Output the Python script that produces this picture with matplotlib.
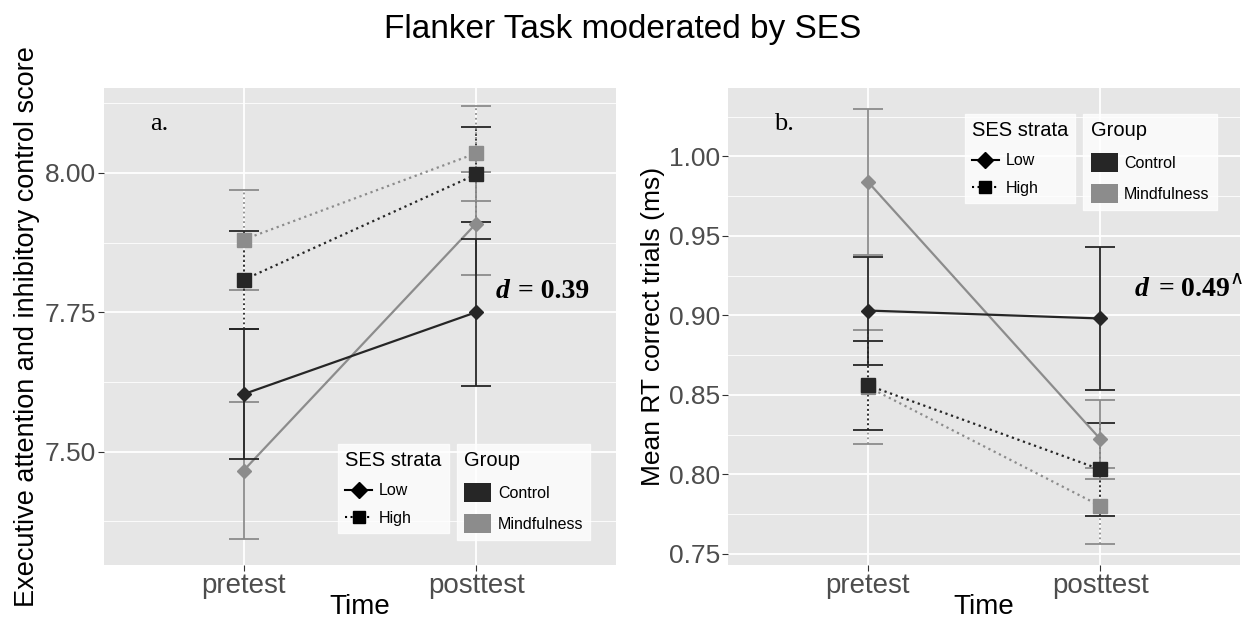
import matplotlib
matplotlib.use('Agg')
import matplotlib.pyplot as plt
from matplotlib.lines import Line2D
from matplotlib.patches import Patch
from matplotlib.ticker import MultipleLocator

plt.rcParams['font.family'] = ['Liberation Sans', 'DejaVu Sans']

times = ['pretest', 'posttest']

# panel a: executive attention score
a_low_control = [7.603, 7.750]
a_low_control_err = [0.117, 0.132]
a_low_mind = [7.466, 7.909]
a_low_mind_err = [0.123, 0.092]
a_high_control = [7.808, 7.997]
a_high_control_err = [0.088, 0.086]
a_high_mind = [7.880, 8.035]
a_high_mind_err = [0.090, 0.085]
a_ticks = [7.50, 7.75, 8.00]

# panel b: mean RT correct trials
b_low_control = [0.903, 0.898]
b_low_control_err = [0.034, 0.045]
b_low_mind = [0.984, 0.822]
b_low_mind_err = [0.046, 0.025]
b_high_control = [0.856, 0.803]
b_high_control_err = [0.028, 0.029]
b_high_mind = [0.855, 0.780]
b_high_mind_err = [0.036, 0.024]
b_ticks = [0.75, 0.80, 0.85, 0.90, 0.95, 1.00]

c_control = '#262626'
c_mind = '#8c8c8c'
bg = '#e6e6e6'
tick_grey = '#4d4d4d'

fig = plt.figure(figsize=(12.45, 6.2), dpi=100)
ax1 = fig.add_axes([0.0835, 0.089, 0.411, 0.769])
ax2 = fig.add_axes([0.585, 0.089, 0.411, 0.769])

fig.text(0.5, 0.953, 'Flanker Task moderated by SES', ha='center', va='center', fontsize=24)


def draw_series(ax, vals, errs, color, marker, ls, ms):
    x = [1, 2]
    ax.plot(x, vals, color=color, linestyle=ls, linewidth=1.6, zorder=3)
    eb = ax.errorbar(x, vals, yerr=errs, fmt='none', ecolor=color, elinewidth=1.3,
                     capsize=11, capthick=1.3, zorder=3)
    if ls != '-':
        eb[2][0].set_linestyle(':')
    ax.plot(x, vals, linestyle='none', marker=marker, markersize=ms, color=color, zorder=4)


def style_axis(ax, ylim, ticks, minor, ylabel, ysize):
    ax.set_facecolor(bg)
    for s in ax.spines.values():
        s.set_visible(False)
    ax.set_xlim(0.4, 2.6)
    ax.set_ylim(*ylim)
    ax.set_xticks([1, 2])
    ax.set_xticklabels(times, fontsize=20, color=tick_grey)
    ax.set_yticks(ticks)
    ax.set_yticklabels(['%.2f' % t for t in ticks], fontsize=19, color=tick_grey)
    ax.yaxis.set_minor_locator(MultipleLocator(minor))
    ax.tick_params(axis='both', which='major', length=4, color='#333333', pad=2)
    ax.tick_params(axis='y', which='minor', length=0)
    ax.grid(True, which='major', color='white', linewidth=1.3)
    ax.grid(True, which='minor', axis='y', color='white', linewidth=0.6)
    ax.set_axisbelow(True)
    ax.set_xlabel('Time', fontsize=20, labelpad=-4)
    ax.set_ylabel(ylabel, fontsize=ysize, labelpad=3)


def add_legends(ax, x_ses, x_grp, y_top):
    ses_handles = [
        Line2D([], [], color='black', linestyle='-', marker='D', markersize=8),
        Line2D([], [], color='black', linestyle=':', marker='s', markersize=9),
    ]
    grp_handles = [Patch(facecolor=c_control), Patch(facecolor=c_mind)]
    kw = dict(fontsize=11.5, title_fontsize=14.5, frameon=True, fancybox=False,
              borderaxespad=0, handlelength=1.7, handletextpad=0.4,
              labelspacing=0.8, borderpad=0.45, alignment='left')
    leg1 = ax.legend(ses_handles, ['Low', 'High'], title='SES strata',
                     loc='upper left', bbox_to_anchor=(x_ses, y_top), **kw)
    leg1.get_frame().set_edgecolor('white')
    ax.add_artist(leg1)
    leg2 = ax.legend(grp_handles, ['Control', 'Mindfulness'], title='Group',
                     loc='upper left', bbox_to_anchor=(x_grp, y_top),
                     handleheight=1.4, **kw)
    leg2.get_frame().set_edgecolor('white')


def add_effect(ax, x, y, value):
    ax.text(x, y, 'd', transform=ax.transAxes, fontsize=20, family='Liberation Serif',
            fontweight='bold', fontstyle='italic', va='center')
    ax.text(x + 0.045, y, value, transform=ax.transAxes, fontsize=20,
            family='Liberation Serif', fontweight='bold', va='center')


# panel a
style_axis(ax1, (7.297, 8.152), a_ticks, 0.125,
           'Executive attention and inhibitory control score', 19.5)
draw_series(ax1, a_high_mind, a_high_mind_err, c_mind, 's', ':', 10)
draw_series(ax1, a_high_control, a_high_control_err, c_control, 's', ':', 10)
draw_series(ax1, a_low_mind, a_low_mind_err, c_mind, 'D', '-', 7.5)
draw_series(ax1, a_low_control, a_low_control_err, c_control, 'D', '-', 7.5)
ax1.text(0.09, 0.925, 'a.', transform=ax1.transAxes, fontsize=19,
         family='Liberation Serif', va='center')
add_effect(ax1, 0.765, 0.573, '= 0.39')
add_legends(ax1, 0.457, 0.69, 0.253)

# panel b
style_axis(ax2, (0.743, 1.043), b_ticks, 0.025, 'Mean RT correct trials (ms)', 19)
draw_series(ax2, b_high_mind, b_high_mind_err, c_mind, 's', ':', 10)
draw_series(ax2, b_high_control, b_high_control_err, c_control, 's', ':', 10)
draw_series(ax2, b_low_mind, b_low_mind_err, c_mind, 'D', '-', 7.5)
draw_series(ax2, b_low_control, b_low_control_err, c_control, 'D', '-', 7.5)
ax2.text(0.09, 0.925, 'b.', transform=ax2.transAxes, fontsize=19,
         family='Liberation Serif', va='center')
add_effect(ax2, 0.795, 0.578, '= 0.49$^{\\wedge}$')
add_legends(ax2, 0.462, 0.694, 0.945)

fig.savefig('out.png', dpi=100)
